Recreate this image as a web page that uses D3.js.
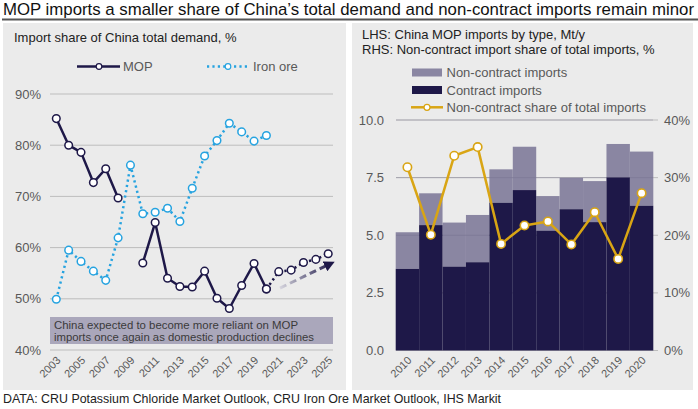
<!DOCTYPE html>
<html>
<head>
<meta charset="utf-8">
<script src="https://cdn.jsdelivr.net/npm/d3@7"></script>
<style>
  body { margin: 0; background: #fff; }
  text { font-family: "Liberation Sans", Arial, sans-serif; }
</style>
</head>
<body>
<div id="viz"></div>
<script>

// left chart data: import share of China total demand, %
var years = d3.range(2003, 2026);
var mopShare = [85.2, 80.0, 78.6, 72.7, 75.4, 69.7, null, 57.0, 64.9, 54.0, 52.4, 52.3, 55.4, 50.1, 48.1, 52.6, 56.9, 51.9, null, null, null, null, null];
var mopForecast = [null, null, null, null, null, null, null, null, null, null, null, null, null, null, null, null, null, 51.9, 55.3, 55.6, 57.1, 57.7, 58.8];
var ironShare = [49.9, 59.5, 57.3, 55.4, 53.6, 61.9, 76.1, 66.6, 66.9, 67.7, 65.1, 71.6, 77.9, 80.9, 84.3, 82.6, 80.8, 81.9, null, null, null, null, null];
var leftTicks = [40, 50, 60, 70, 80, 90];
var leftYearLabels = [2003, 2005, 2007, 2009, 2011, 2013, 2015, 2017, 2019, 2021, 2023, 2025];
var trendArrow = [[2021.1, 52.1], [2025.3, 57.0]];

// right chart data: China MOP imports by type, Mt/y
var barYears = ["2010", "2011", "2012", "2013", "2014", "2015", "2016", "2017", "2018", "2019", "2020"];
var contract = [3.54, 5.44, 3.64, 3.83, 6.41, 6.96, 5.20, 6.13, 5.57, 7.51, 6.28];
var nonContract = [1.59, 1.38, 1.91, 2.05, 1.45, 1.88, 1.50, 1.36, 1.78, 1.45, 2.35];
var ncShare = [31.8, 20.1, 33.8, 35.3, 18.5, 21.7, 22.4, 18.4, 24.0, 15.9, 27.3];
var lhsTicks = [0, 2.5, 5, 7.5, 10];
var rhsTicks = [0, 10, 20, 30, 40];

var navy = "#1e1848";
var lilac = "#8a86a2";
var blue = "#26a3e0";
var gold = "#d9a514";
var tickGrey = "#595959";
var grid = "#bdbdbd";

var svg = d3.select("#viz")
	.append("svg")
	.attr("width", 698)
	.attr("height", 409);

// title
svg.append("text")
	.attr("x", 3).attr("y", 15)
	.attr("font-size", 16.6)
	.attr("fill", "#111")
	.attr("textLength", 691)
	.attr("lengthAdjust", "spacingAndGlyphs")
	.text("MOP imports a smaller share of China’s total demand and non-contract imports remain minor");
svg.append("line")
	.attr("x1", 2).attr("x2", 698).attr("y1", 19.5).attr("y2", 19.5)
	.attr("stroke", "#555").attr("stroke-width", 2);

// panels
svg.append("rect").attr("x", 3).attr("y", 23).attr("width", 343).attr("height", 367).attr("fill", "#ebebeb");
svg.append("rect").attr("x", 352).attr("y", 23).attr("width", 341).attr("height", 367).attr("fill", "#ebebeb");

// footer
svg.append("text")
	.attr("x", 3).attr("y", 403)
	.attr("font-size", 12.4)
	.attr("fill", "#222")
	.text("DATA: CRU Potassium Chloride Market Outlook, CRU Iron Ore Market Outlook, IHS Markit");

// ---------------- left chart ----------------
var g1 = svg.append("g");

var x1 = d3.scaleLinear().domain([2003, 2025]).range([56.3, 328.2]);
var y1 = d3.scaleLinear().domain([40, 90]).range([350, 94]);

g1.append("text")
	.attr("x", 14).attr("y", 42)
	.attr("font-size", 13).attr("fill", "#222")
	.text("Import share of China total demand, %");

g1.selectAll(".grid1")
	.data(leftTicks).enter()
	.append("line")
	.attr("x1", 50).attr("x2", 333)
	.attr("y1", function(d) { return y1(d) })
	.attr("y2", function(d) { return y1(d) })
	.attr("stroke", grid).attr("stroke-width", 1);

g1.selectAll(".ylab1")
	.data(leftTicks).enter()
	.append("text")
	.attr("x", 41)
	.attr("y", function(d) { return y1(d) + 4.5 })
	.attr("text-anchor", "end")
	.attr("font-size", 13).attr("fill", tickGrey)
	.text(function(d) { return d + "%" });

g1.selectAll(".xlab1")
	.data(leftYearLabels).enter()
	.append("text")
	.attr("transform", function(d) { return "translate(" + (x1(d) + 5) + ",361) rotate(-45)" })
	.attr("text-anchor", "end")
	.attr("font-size", 11).attr("fill", tickGrey)
	.text(function(d) { return d });

// annotation box
g1.append("rect")
	.attr("x", 50).attr("y", 317).attr("width", 283).attr("height", 27)
	.attr("fill", "#aaa7bb");
g1.append("text")
	.attr("x", 54).attr("y", 329)
	.attr("font-size", 11.2).attr("fill", "#3a3a3a")
	.attr("textLength", 244).attr("lengthAdjust", "spacingAndGlyphs")
	.text("China expected to become more reliant on MOP");
g1.append("text")
	.attr("x", 54).attr("y", 340.5)
	.attr("font-size", 11.2).attr("fill", "#3a3a3a")
	.attr("textLength", 260).attr("lengthAdjust", "spacingAndGlyphs")
	.text("imports once again as domestic production declines");

var ironPts = years.map(function(yr, i) { return { year: yr, v: ironShare[i] } }).filter(function(d) { return d.v != null });
var mopPts = years.map(function(yr, i) { return { year: yr, v: mopShare[i] } });
var fcPts = years.map(function(yr, i) { return { year: yr, v: mopForecast[i] } }).filter(function(d) { return d.v != null });

var line1 = d3.line()
	.defined(function(d) { return d.v != null })
	.x(function(d) { return x1(d.year) })
	.y(function(d) { return y1(d.v) });

g1.append("path")
	.attr("d", line1(ironPts))
	.attr("fill", "none").attr("stroke", blue).attr("stroke-width", 2.5)
	.attr("stroke-dasharray", "2.2,3.2");

g1.append("path")
	.attr("d", line1(mopPts))
	.attr("fill", "none").attr("stroke", navy).attr("stroke-width", 2.5)
	.attr("stroke-linejoin", "round");

g1.append("path")
	.attr("d", line1(fcPts))
	.attr("fill", "none").attr("stroke", navy).attr("stroke-width", 2.5)
	.attr("stroke-dasharray", "2.2,3.2");

// trend arrow
var defs = svg.append("defs");
var grad = defs.append("linearGradient")
	.attr("id", "arrowGrad")
	.attr("gradientUnits", "userSpaceOnUse")
	.attr("x1", x1(trendArrow[0][0])).attr("y1", y1(trendArrow[0][1]))
	.attr("x2", x1(trendArrow[1][0])).attr("y2", y1(trendArrow[1][1]));
grad.append("stop").attr("offset", "0%").attr("stop-color", "#d6d5de");
grad.append("stop").attr("offset", "100%").attr("stop-color", navy);

defs.append("marker")
	.attr("id", "head")
	.attr("viewBox", "0 0 10 10")
	.attr("refX", 3).attr("refY", 5)
	.attr("markerWidth", 3.6).attr("markerHeight", 3.6)
	.attr("markerUnits", "strokeWidth")
	.attr("orient", "auto")
	.append("path")
	.attr("d", "M0,0 L10,5 L0,10 z")
	.attr("fill", navy);

g1.append("line")
	.attr("x1", x1(trendArrow[0][0])).attr("y1", y1(trendArrow[0][1]))
	.attr("x2", x1(trendArrow[1][0]) - 4).attr("y2", y1(trendArrow[1][1]) + 2)
	.attr("stroke", "url(#arrowGrad)").attr("stroke-width", 3)
	.attr("stroke-dasharray", "7,4")
	.attr("marker-end", "url(#head)");

g1.selectAll(".ironDot")
	.data(ironPts).enter()
	.append("circle")
	.attr("cx", function(d) { return x1(d.year) })
	.attr("cy", function(d) { return y1(d.v) })
	.attr("r", 3.8)
	.attr("fill", "#fff").attr("stroke", blue).attr("stroke-width", 1.5);

g1.selectAll(".mopDot")
	.data(mopPts.filter(function(d) { return d.v != null }).concat(fcPts)).enter()
	.append("circle")
	.attr("cx", function(d) { return x1(d.year) })
	.attr("cy", function(d) { return y1(d.v) })
	.attr("r", 3.8)
	.attr("fill", "#fff").attr("stroke", navy).attr("stroke-width", 1.5);

// left legend
g1.append("line").attr("x1", 77).attr("x2", 120).attr("y1", 66.5).attr("y2", 66.5)
	.attr("stroke", navy).attr("stroke-width", 2.5);
g1.append("circle").attr("cx", 99).attr("cy", 66.5).attr("r", 2.8)
	.attr("fill", "#fff").attr("stroke", navy).attr("stroke-width", 1.2);
g1.append("text").attr("x", 123).attr("y", 71).attr("font-size", 13).attr("fill", tickGrey).text("MOP");

g1.append("line").attr("x1", 207).attr("x2", 248).attr("y1", 66.5).attr("y2", 66.5)
	.attr("stroke", blue).attr("stroke-width", 2.5).attr("stroke-dasharray", "2.2,3.2");
g1.append("circle").attr("cx", 228).attr("cy", 66.5).attr("r", 2.8)
	.attr("fill", "#fff").attr("stroke", blue).attr("stroke-width", 1.2);
g1.append("text").attr("x", 253).attr("y", 71).attr("font-size", 13).attr("fill", tickGrey).text("Iron ore");

// ---------------- right chart ----------------
var g2 = svg.append("g");

var x2 = d3.scaleBand().domain(barYears).range([395.7, 653.3]).padding(0);
var y2 = d3.scaleLinear().domain([0, 10]).range([350.5, 120]);
var y2r = d3.scaleLinear().domain([0, 40]).range([350.5, 120]);

g2.append("text")
	.attr("x", 362).attr("y", 39)
	.attr("font-size", 13).attr("fill", "#222")
	.text("LHS: China MOP imports by type, Mt/y");
g2.append("text")
	.attr("x", 362).attr("y", 53.5)
	.attr("font-size", 13).attr("fill", "#222")
	.text("RHS: Non-contract import share of total imports, %");

g2.selectAll(".grid2")
	.data(lhsTicks).enter()
	.append("line")
	.attr("x1", 396).attr("x2", 658)
	.attr("y1", function(d) { return y2(d) })
	.attr("y2", function(d) { return y2(d) })
	.attr("stroke", grid).attr("stroke-width", 1);

g2.selectAll(".ylab2")
	.data(lhsTicks).enter()
	.append("text")
	.attr("x", 384)
	.attr("y", function(d) { return y2(d) + 4.5 })
	.attr("text-anchor", "end")
	.attr("font-size", 13).attr("fill", tickGrey)
	.text(function(d) { return d3.format(".1f")(d) });

g2.selectAll(".ylab2r")
	.data(rhsTicks).enter()
	.append("text")
	.attr("x", 664)
	.attr("y", function(d) { return y2r(d) + 4.5 })
	.attr("font-size", 13).attr("fill", tickGrey)
	.text(function(d) { return d + "%" });

g2.selectAll(".nc")
	.data(barYears).enter()
	.append("rect")
	.attr("x", function(d) { return x2(d) })
	.attr("width", x2.bandwidth())
	.attr("y", function(d, i) { return y2(contract[i] + nonContract[i]) })
	.attr("height", function(d, i) { return y2(contract[i]) - y2(contract[i] + nonContract[i]) })
	.attr("fill", lilac);

// gridlines faintly visible through the non-contract bars
g2.selectAll(".grid2b")
	.data(lhsTicks.slice(1)).enter()
	.append("line")
	.attr("x1", 396).attr("x2", 653)
	.attr("y1", function(d) { return y2(d) })
	.attr("y2", function(d) { return y2(d) })
	.attr("stroke", "#6e6a88").attr("stroke-width", 1).attr("stroke-opacity", 0.35);

g2.selectAll(".ct")
	.data(barYears).enter()
	.append("rect")
	.attr("x", function(d) { return x2(d) })
	.attr("width", x2.bandwidth())
	.attr("y", function(d, i) { return y2(contract[i]) })
	.attr("height", function(d, i) { return y2(0) - y2(contract[i]) })
	.attr("fill", navy);

g2.selectAll(".xlab2")
	.data(barYears).enter()
	.append("text")
	.attr("transform", function(d) { return "translate(" + (x2(d) + x2.bandwidth() / 2 + 5) + ",361) rotate(-45)" })
	.attr("text-anchor", "end")
	.attr("font-size", 11).attr("fill", tickGrey)
	.text(function(d) { return d });

var line2 = d3.line()
	.x(function(d, i) { return x2(barYears[i]) + x2.bandwidth() / 2 })
	.y(function(d) { return y2r(d) });

g2.append("path")
	.attr("d", line2(ncShare))
	.attr("fill", "none").attr("stroke", gold).attr("stroke-width", 2.5)
	.attr("stroke-linejoin", "round");

g2.selectAll(".shareDot")
	.data(ncShare).enter()
	.append("circle")
	.attr("cx", function(d, i) { return x2(barYears[i]) + x2.bandwidth() / 2 })
	.attr("cy", function(d) { return y2r(d) })
	.attr("r", 4.2)
	.attr("fill", "#fff").attr("stroke", gold).attr("stroke-width", 1.6);

// right legend
var leg2 = [
	{ label: "Non-contract imports", kind: "bar", color: lilac, y: 72.5 },
	{ label: "Contract imports", kind: "bar", color: navy, y: 90 },
	{ label: "Non-contract share of total imports", kind: "line", color: gold, y: 107.3 }
];
leg2.forEach(function(d) {
	if (d.kind == "bar") {
		g2.append("rect").attr("x", 412).attr("y", d.y - 4).attr("width", 30).attr("height", 8).attr("fill", d.color);
	} else {
		g2.append("line").attr("x1", 411).attr("x2", 443).attr("y1", d.y).attr("y2", d.y)
			.attr("stroke", d.color).attr("stroke-width", 2.5);
		g2.append("circle").attr("cx", 427).attr("cy", d.y).attr("r", 3)
			.attr("fill", "#fff").attr("stroke", d.color).attr("stroke-width", 1.3);
	}
	g2.append("text").attr("x", 446.5).attr("y", d.y + 4.5)
		.attr("font-size", 13).attr("fill", tickGrey).text(d.label);
});

</script>
</body>
</html>
